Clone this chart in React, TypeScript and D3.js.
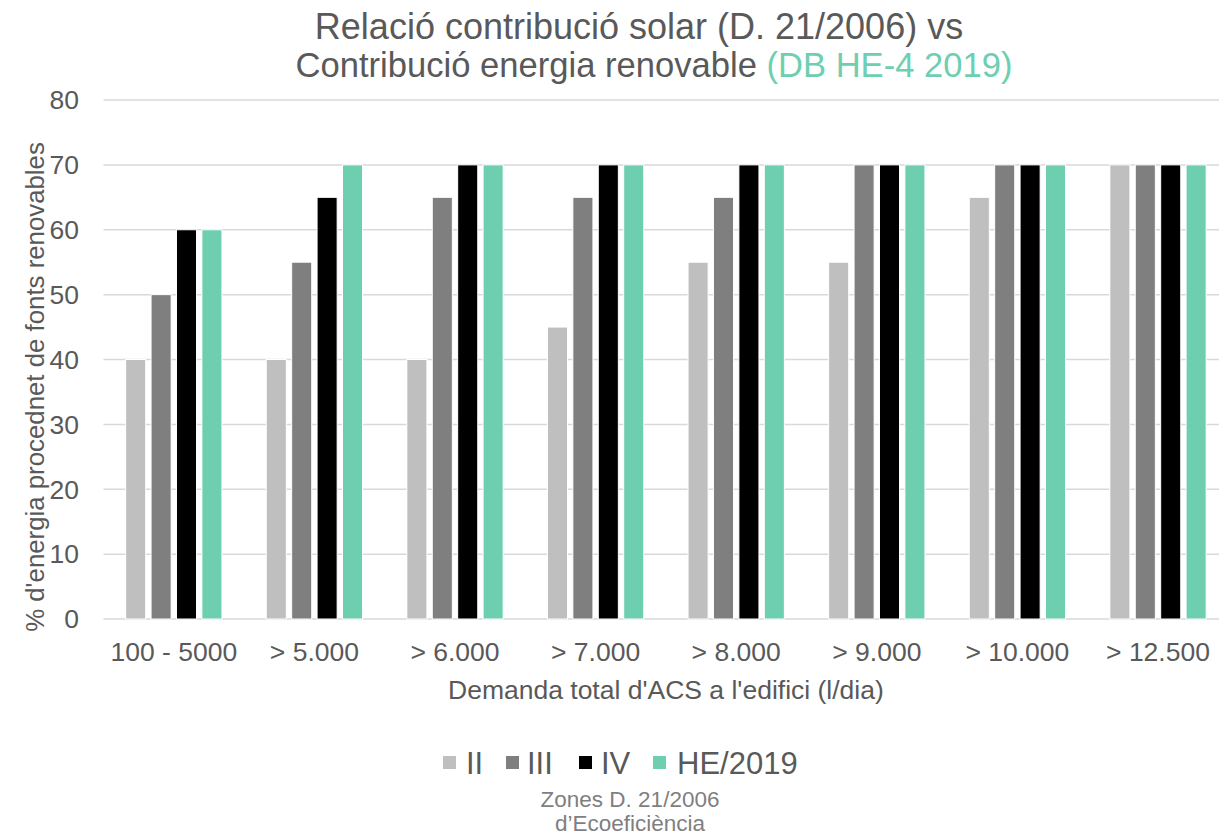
import React from "react";
import * as d3 from "d3";

const categories = ["100 - 5000", "> 5.000", "> 6.000", "> 7.000", "> 8.000", "> 9.000", "> 10.000", "> 12.500"];
const seriesNames = ["II", "III", "IV", "HE/2019"];
const seriesColors = ["#bfbfbf", "#7f7f7f", "#000000", "#6ecfb0"];
const valuesII = [40, 40, 40, 45, 55, 55, 65, 70];
const valuesIII = [50, 55, 65, 65, 65, 70, 70, 70];
const valuesIV = [60, 65, 70, 70, 70, 70, 70, 70];
const valuesHE = [60, 70, 70, 70, 70, 70, 70, 70];
const yTicks = [0, 10, 20, 30, 40, 50, 60, 70, 80];

const W = 1219;
const H = 837;
const FONT = "'Liberation Sans', Arial, sans-serif";
const TEXT = "#595959";

export default function App() {
  const series = [valuesII, valuesIII, valuesIV, valuesHE];
  const left = 103.5;
  const right = 1228.3;
  const top = 100;
  const bottom = 619;

  const x0 = d3.scaleBand<string>().domain(categories).range([left, right]).paddingInner(0.315).paddingOuter(0.1575);
  const x1 = d3.scaleBand<string>().domain(seriesNames).range([0, x0.bandwidth()]).paddingInner(0.21);
  const y = d3.scaleLinear().domain([0, 80]).range([bottom, top]);

  const legendItems = [
    { name: "II", sq: 443, tx: 466 },
    { name: "III", sq: 506, tx: 527 },
    { name: "IV", sq: 579, tx: 601 },
    { name: "HE/2019", sq: 653, tx: 677 },
  ];

  return (
    <svg width={W} height={H} style={{ position: "absolute", left: 0, top: 0, background: "#fff" }} fontFamily={FONT}>
      <rect x={0} y={0} width={W} height={H} fill="#fff" />
      {/* title */}
      <text x={639} y={39} textAnchor="middle" fontSize={36} fill={TEXT}>
        Relació contribució solar (D. 21/2006) vs
      </text>
      <text x={654} y={77} textAnchor="middle" fontSize={34.6} fill={TEXT}>
        Contribució energia renovable <tspan fill="#6ecfb0">(DB HE-4 2019)</tspan>
      </text>

      {/* gridlines */}
      {yTicks.map((t) => (
        <line key={t} x1={left} x2={right} y1={y(t)} y2={y(t)} stroke="#d9d9d9" strokeWidth={1.5} />
      ))}
      {/* y tick labels */}
      {yTicks.map((t) => (
        <text key={"l" + t} x={79} y={y(t)} dy="0.35em" textAnchor="end" fontSize={26.5} fill={TEXT}>
          {t}
        </text>
      ))}

      {/* bars */}
      {categories.map((c, i) => (
        <g key={c} transform={`translate(${x0(c)},0)`}>
          {seriesNames.map((s, j) => {
            const v = series[j][i];
            return (
              <rect
                key={s}
                x={x1(s)}
                y={y(v)}
                width={x1.bandwidth()}
                height={y(0) - y(v)}
                fill={seriesColors[j]}
                stroke="#ffffff"
                strokeWidth={1}
              />
            );
          })}
        </g>
      ))}

      {/* x tick labels */}
      {categories.map((c) => (
        <text key={"x" + c} x={(x0(c) ?? 0) + x0.bandwidth() / 2} y={661} textAnchor="middle" fontSize={26.5} fill={TEXT}>
          {c}
        </text>
      ))}

      {/* axis titles */}
      <text x={(left + right) / 2} y={699} textAnchor="middle" fontSize={26.5} fill={TEXT}>
        Demanda total d'ACS a l'edifici (l/dia)
      </text>
      <text transform={`translate(44,387) rotate(-90)`} textAnchor="middle" fontSize={25.8} fill={TEXT}>
        % d'energia procednet de fonts renovables
      </text>

      {/* legend */}
      {legendItems.map((it, j) => (
        <g key={it.name}>
          <rect x={it.sq} y={756} width={13} height={13} fill={seriesColors[j]} />
          <text x={it.tx} y={774} fontSize={31} fill={TEXT}>
            {it.name}
          </text>
        </g>
      ))}

      {/* footer */}
      <text x={630} y={807} textAnchor="middle" fontSize={22.5} fill="#7f7f7f">
        Zones D. 21/2006
      </text>
      <text x={630} y={831} textAnchor="middle" fontSize={22.5} fill="#7f7f7f">
        d’Ecoeficiència
      </text>
    </svg>
  );
}
